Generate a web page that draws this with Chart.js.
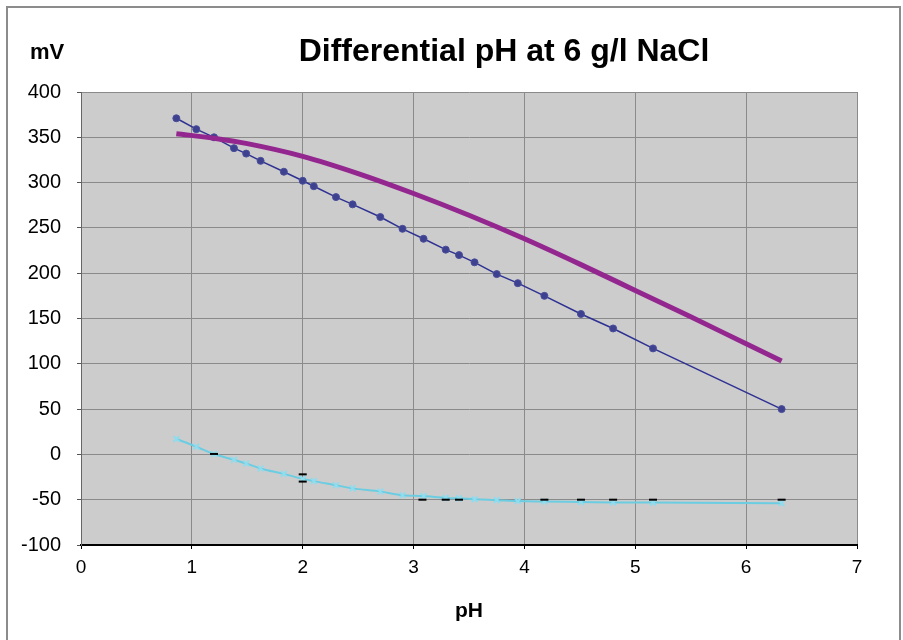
<!DOCTYPE html>
<html>
<head>
<meta charset="utf-8">
<script src="https://cdn.jsdelivr.net/npm/chart.js@4.4.0/dist/chart.umd.min.js"></script>
<style>
  body { margin: 0; background: #fff; }
  #wrap { width: 903px; height: 640px; }
</style>
</head>
<body>
<div id="wrap"><canvas id="ph_chart" width="903" height="640"></canvas></div>
<script>
// measured points (pH, mV)
var phMeasured = [0.86, 1.04, 1.20, 1.38, 1.49, 1.62, 1.83, 2.00, 2.10, 2.30, 2.45, 2.70,
                  2.90, 3.09, 3.29, 3.41, 3.55, 3.75, 3.94, 4.18, 4.51, 4.80, 5.16, 6.32];
var mvElectrode = [371, 359, 350, 338, 332, 324, 312, 302, 296, 284, 276, 262,
                   249, 238, 226, 220, 212, 199, 189, 175, 155, 139, 117, 50];
var mvReference = [17, 8.5, 0.5, -6, -10, -15.5, -21.5, -27, -29.5, -34, -37.5, -41,
                   -45, -46, -48, -48.5, -49.5, -50.5, -51.5, -52, -52.5, -53, -53.2, -54];
// differential curve
var phCurve = [0.86, 1.2, 1.5, 2.0, 2.5, 3.0, 3.5, 4.0, 4.5, 5.0, 5.5, 6.0, 6.32];
var mvCurve = [354, 349, 343, 329, 310, 288, 264, 238, 210, 181, 152, 122, 103];
// small black marks
var phMarks = [1.2, 2.0, 2.0, 3.08, 3.29, 3.41, 4.18, 4.51, 4.80, 5.16, 6.32];
var mvMarks = [0.5, -22, -30, -50, -50, -50, -50, -50, -50, -50, -50];

function pts(xs, ys) {
  return xs.map(function (x, i) { return { x: x, y: ys[i] }; });
}

var FONT = "'Liberation Sans', Arial, Helvetica, sans-serif";

var backdrop = {
  id: 'backdrop',
  beforeDraw: function (chart) {
    var ctx = chart.ctx, a = chart.chartArea;
    ctx.save();
    ctx.fillStyle = '#ffffff';
    ctx.fillRect(0, 0, chart.width, chart.height);
    ctx.strokeStyle = '#8c8c8c';
    ctx.lineWidth = 2;
    ctx.strokeRect(7, 7, 893, 650);
    ctx.fillStyle = '#cccccc';
    ctx.fillRect(a.left, a.top, a.right - a.left, a.bottom - a.top);
    ctx.restore();
  },
  afterDraw: function (chart) {
    var ctx = chart.ctx;
    ctx.save();
    ctx.fillStyle = '#000';
    ctx.textAlign = 'center';
    ctx.textBaseline = 'middle';
    ctx.font = 'bold 32px ' + FONT;
    ctx.fillText('Differential pH at 6 g/l NaCl', 504, 52);
    ctx.font = 'bold 22px ' + FONT;
    ctx.fillText('mV', 47, 53);
    ctx.restore();
  }
};

new Chart(document.getElementById('ph_chart'), {
  type: 'scatter',
  data: {
    datasets: [{
      label: 'marks',
      data: pts(phMarks, mvMarks),
      showLine: false,
      pointStyle: 'line',
      pointRadius: 4,
      borderColor: '#000',
      borderWidth: 2
    }, {
      label: 'differential',
      data: pts(phCurve, mvCurve),
      showLine: true,
      borderColor: '#93278f',
      borderWidth: 5,
      pointRadius: 0,
      cubicInterpolationMode: 'monotone'
    }, {
      label: 'electrode',
      data: pts(phMeasured, mvElectrode),
      showLine: true,
      borderColor: '#2e3192',
      borderWidth: 1.5,
      pointRadius: 3.5,
      pointBackgroundColor: '#3d418f',
      pointBorderColor: '#4a4e99',
      pointBorderWidth: 1
    }, {
      label: 'reference',
      data: pts(phMeasured, mvReference),
      showLine: true,
      borderColor: '#6bcde2',
      borderWidth: 2,
      cubicInterpolationMode: 'monotone',
      pointStyle: 'crossRot',
      pointRadius: 4,
      pointBorderColor: '#8fdcee',
      pointBorderWidth: 2
    }]
  },
  options: {
    responsive: false,
    animation: false,
    layout: { padding: { left: 0, right: 46, top: 92, bottom: 0 } },
    plugins: {
      legend: { display: false },
      title: { display: false },
      tooltip: { enabled: false }
    },
    scales: {
      x: {
        type: 'linear',
        min: 0,
        max: 7,
        ticks: { stepSize: 1, color: '#000', padding: 7, font: { family: FONT, size: 19 } },
        grid: { color: '#8a8a8a', lineWidth: 1, tickLength: 4, tickColor: '#000' },
        border: { color: '#000', width: 2 },
        title: { display: true, text: 'pH', color: '#000', padding: { top: 0, bottom: 16 },
                 font: { family: FONT, size: 21, weight: 'bold' } },
        afterFit: function (s) { s.height = 95; }
      },
      y: {
        min: -100,
        max: 400,
        ticks: { stepSize: 50, color: '#000', padding: 16, font: { family: FONT, size: 20 } },
        grid: { color: '#8a8a8a', lineWidth: 1, tickLength: 4, tickColor: '#555' },
        border: { color: '#666', width: 1 },
        afterFit: function (s) { s.width = 81; }
      }
    }
  },
  plugins: [backdrop]
});
</script>
</body>
</html>
